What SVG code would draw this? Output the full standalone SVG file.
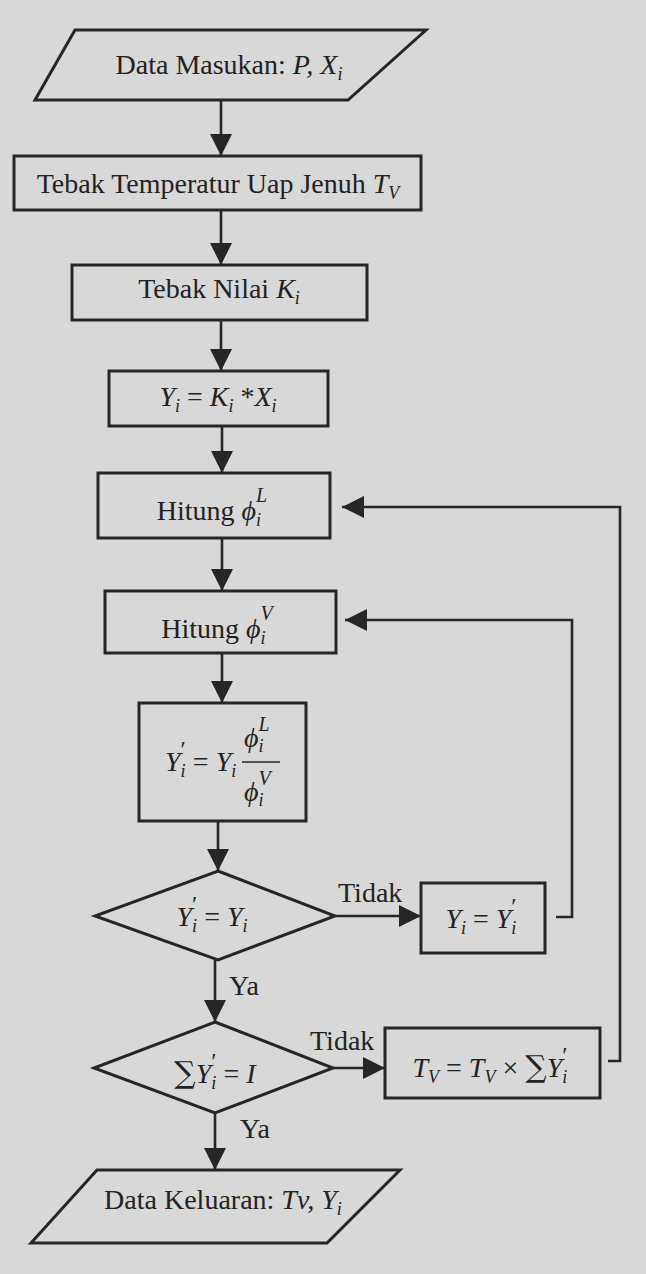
<svg xmlns="http://www.w3.org/2000/svg" width="646" height="1274" viewBox="0 0 646 1274">
<defs>
<marker id="ah" markerUnits="userSpaceOnUse" markerWidth="24" markerHeight="22" refX="22" refY="11" orient="auto">
<path d="M0,0 L22,11 L0,22 Z" fill="#262626"/>
</marker>
<style>
.sh{fill:none;stroke:#262626;stroke-width:3}
.ln{fill:none;stroke:#262626;stroke-width:2.6}
.t{font-family:"Liberation Serif","Times New Roman",serif;font-size:28px;fill:#222}
.it{font-style:italic}
.sub{font-size:18px;font-style:italic}
.sup{font-size:20px;font-style:italic}
.pr{font-size:24px}
</style>
</defs>
<rect x="0" y="0" width="646" height="1274" fill="#d8d8d8"/>

<g id="connectors">
<line class="ln" x1="221" y1="100" x2="221" y2="156" marker-end="url(#ah)"/>
<line class="ln" x1="221" y1="210" x2="221" y2="265" marker-end="url(#ah)"/>
<line class="ln" x1="221" y1="320" x2="221" y2="371" marker-end="url(#ah)"/>
<line class="ln" x1="222" y1="426" x2="222" y2="473" marker-end="url(#ah)"/>
<line class="ln" x1="222" y1="538" x2="222" y2="591" marker-end="url(#ah)"/>
<line class="ln" x1="222" y1="653" x2="222" y2="703" marker-end="url(#ah)"/>
<line class="ln" x1="218" y1="821" x2="218" y2="871" marker-end="url(#ah)"/>
<line class="ln" x1="335" y1="916" x2="421" y2="916" marker-end="url(#ah)"/>
<polyline class="ln" points="556,917 572,917 572,620 345,620" marker-end="url(#ah)"/>
<line class="ln" x1="215" y1="960" x2="215" y2="1022" marker-end="url(#ah)"/>
<line class="ln" x1="333" y1="1068" x2="385" y2="1068" marker-end="url(#ah)"/>
<polyline class="ln" points="608,1061 620,1061 620,507 342,507" marker-end="url(#ah)"/>
<line class="ln" x1="215" y1="1113" x2="215" y2="1170" marker-end="url(#ah)"/>
<text class="t" x="338" y="902">Tidak</text>
<text class="t" x="229" y="995">Ya</text>
<text class="t" x="310" y="1050">Tidak</text>
<text class="t" x="240" y="1138">Ya</text>
</g>

<g id="input">
<polygon class="sh" points="75,30 426,30 348,100 35,100"/>
<text class="t" x="229" y="74" text-anchor="middle">Data Masukan: <tspan class="it">P, X</tspan><tspan class="sub" dy="6">i</tspan></text>
</g>

<g id="guess-tv">
<rect class="sh" x="14" y="156" width="407" height="54"/>
<text class="t" x="218" y="193" text-anchor="middle">Tebak Temperatur Uap Jenuh <tspan class="it">T</tspan><tspan class="sub" dy="6">V</tspan></text>
</g>

<g id="guess-k">
<rect class="sh" x="72" y="265" width="295" height="55"/>
<text class="t" x="219" y="298" text-anchor="middle">Tebak Nilai <tspan class="it">K</tspan><tspan class="sub" dy="6">i</tspan></text>
</g>

<g id="calc-y">
<rect class="sh" x="109" y="371" width="219" height="55"/>
<text class="t" x="218" y="406" text-anchor="middle"><tspan class="it">Y</tspan><tspan class="sub" dy="6">i</tspan><tspan dy="-6"> = </tspan><tspan class="it">K</tspan><tspan class="sub" dy="6">i</tspan><tspan dy="-6"> *</tspan><tspan class="it">X</tspan><tspan class="sub" dy="6">i</tspan></text>
</g>

<g id="calc-phil">
<rect class="sh" x="98" y="473" width="232" height="65"/>
<text class="t" x="212" y="520" text-anchor="middle">Hitung <tspan class="it">ϕ</tspan><tspan class="sub" dy="6">i</tspan><tspan class="sup" dx="-5" dy="-24">L</tspan></text>
</g>

<g id="calc-phiv">
<rect class="sh" x="105" y="591" width="231" height="62"/>
<text class="t" x="217" y="638" text-anchor="middle">Hitung <tspan class="it">ϕ</tspan><tspan class="sub" dy="6">i</tspan><tspan class="sup" dx="-5" dy="-24">V</tspan></text>
</g>

<g id="calc-yprime">
<rect class="sh" x="139" y="703" width="167" height="118"/>
<text class="t" x="165" y="771"><tspan class="it">Y</tspan><tspan class="sub" dy="6">i</tspan><tspan class="pr" dx="-5" dy="-20">′</tspan><tspan dy="14"> = </tspan><tspan class="it">Y</tspan><tspan class="sub" dy="6">i</tspan></text>
<line x1="242" y1="762" x2="280" y2="762" stroke="#262626" stroke-width="1.6"/>
<text class="t" x="244" y="747"><tspan class="it">ϕ</tspan><tspan class="sub" dy="5">i</tspan><tspan class="sup" dx="-5" dy="-21">L</tspan></text>
<text class="t" x="244" y="801"><tspan class="it">ϕ</tspan><tspan class="sub" dy="5">i</tspan><tspan class="sup" dx="-5" dy="-21">V</tspan></text>
</g>

<g id="check-y">
<polygon class="sh" points="218,871 335,916 218,960 95,916"/>
<text class="t" x="212" y="926" text-anchor="middle"><tspan class="it">Y</tspan><tspan class="sub" dy="6">i</tspan><tspan class="pr" dx="-5" dy="-20">′</tspan><tspan dy="14"> = </tspan><tspan class="it">Y</tspan><tspan class="sub" dy="6">i</tspan></text>
</g>

<g id="update-y">
<rect class="sh" x="421" y="883" width="124" height="70"/>
<text class="t" x="481" y="928" text-anchor="middle"><tspan class="it">Y</tspan><tspan class="sub" dy="6">i</tspan><tspan dy="-6"> = </tspan><tspan class="it">Y</tspan><tspan class="sub" dy="6">i</tspan><tspan class="pr" dx="-5" dy="-20">′</tspan></text>
</g>

<g id="check-sum">
<polygon class="sh" points="215,1022 333,1068 215,1113 94,1068"/>
<text class="t" x="215" y="1083" text-anchor="middle"><tspan font-family="DejaVu Serif" font-size="30">∑</tspan><tspan class="it">Y</tspan><tspan class="sub" dy="6">i</tspan><tspan class="pr" dx="-5" dy="-20">′</tspan><tspan dy="14"> = </tspan><tspan class="it">I</tspan></text>
</g>

<g id="update-tv">
<rect class="sh" x="385" y="1028" width="215" height="70"/>
<text class="t" x="490" y="1077" text-anchor="middle"><tspan class="it">T</tspan><tspan class="sub" dy="6">V</tspan><tspan dy="-6"> = </tspan><tspan class="it">T</tspan><tspan class="sub" dy="6">V</tspan><tspan dy="-6"> × </tspan><tspan font-family="DejaVu Serif" font-size="30">∑</tspan><tspan class="it">Y</tspan><tspan class="sub" dy="6">i</tspan><tspan class="pr" dx="-5" dy="-20">′</tspan></text>
</g>

<g id="output">
<polygon class="sh" points="97,1170 400,1170 327,1243 31,1243"/>
<text class="t" x="223" y="1209" text-anchor="middle">Data Keluaran: <tspan class="it">Tv, Y</tspan><tspan class="sub" dy="6">i</tspan></text>
</g>
</svg>
